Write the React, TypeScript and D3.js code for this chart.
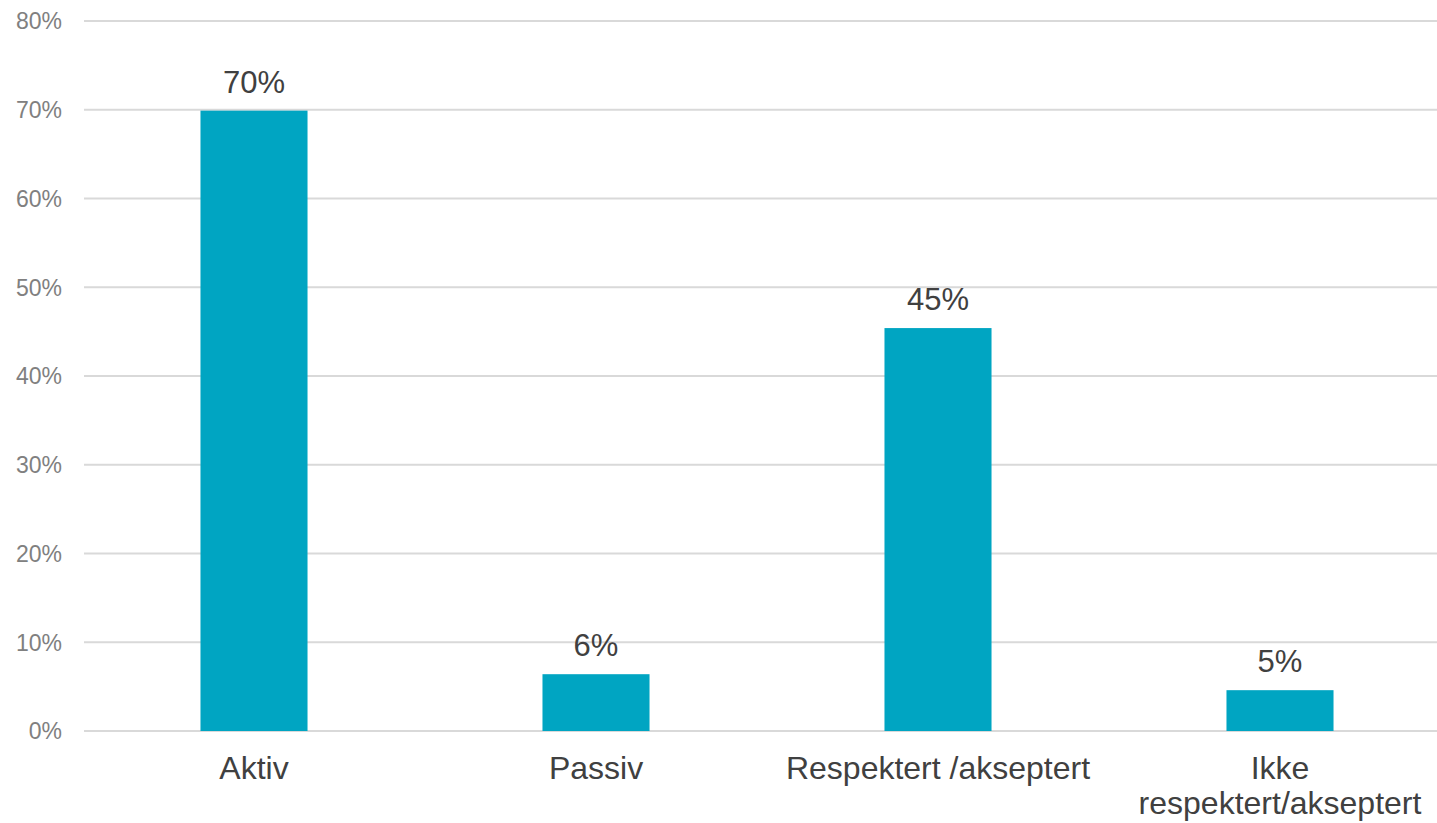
import React from "react";
import * as d3 from "d3";

const categories: string[][] = [
  ["Aktiv"],
  ["Passiv"],
  ["Respektert /akseptert"],
  ["Ikke", "respektert/akseptert"],
];
const values: number[] = [0.699, 0.064, 0.454, 0.046];
const valueLabels: string[] = ["70%", "6%", "45%", "5%"];
const yTicks: number[] = [0, 0.1, 0.2, 0.3, 0.4, 0.5, 0.6, 0.7, 0.8];

const W = 1437;
const H = 823;
const FONT = "Liberation Sans, Arial, Helvetica, sans-serif";

export default function App() {
  const y = d3.scaleLinear().domain([0, 0.8]).range([731, 21]);
  const keys = categories.map((c) => c.join(" "));
  const x = d3
    .scaleBand<string>()
    .domain(keys)
    .range([83, 1451])
    .paddingInner(0.687)
    .paddingOuter(0.3435);
  const fmt = d3.format(".0%");

  return (
    <svg
      width={W}
      height={H}
      style={{ position: "absolute", left: 0, top: 0, background: "#fff" }}
      fontFamily={FONT}
    >
      {yTicks.map((t) => (
        <g key={t}>
          <line x1={84} x2={W} y1={y(t)} y2={y(t)} stroke="#d9d9d9" strokeWidth={2} />
          <text
            x={62}
            y={y(t)}
            dy="0.36em"
            textAnchor="end"
            fontSize={23}
            fill="#808080"
          >
            {fmt(t)}
          </text>
        </g>
      ))}
      {keys.map((k, i) => {
        const bx = x(k)!;
        const bw = x.bandwidth();
        const cx = bx + bw / 2;
        return (
          <g key={k}>
            <rect x={bx} y={y(values[i])} width={bw} height={y(0) - y(values[i])} fill="#00a5c2" />
            <text
              x={cx}
              y={y(values[i]) - 18}
              textAnchor="middle"
              fontSize={31}
              fill="#404040"
            >
              {valueLabels[i]}
            </text>
            {categories[i].map((line, j) => (
              <text
                key={j}
                x={cx}
                y={779 + j * 35}
                textAnchor="middle"
                fontSize={32}
                fill="#404040"
              >
                {line}
              </text>
            ))}
          </g>
        );
      })}
    </svg>
  );
}
